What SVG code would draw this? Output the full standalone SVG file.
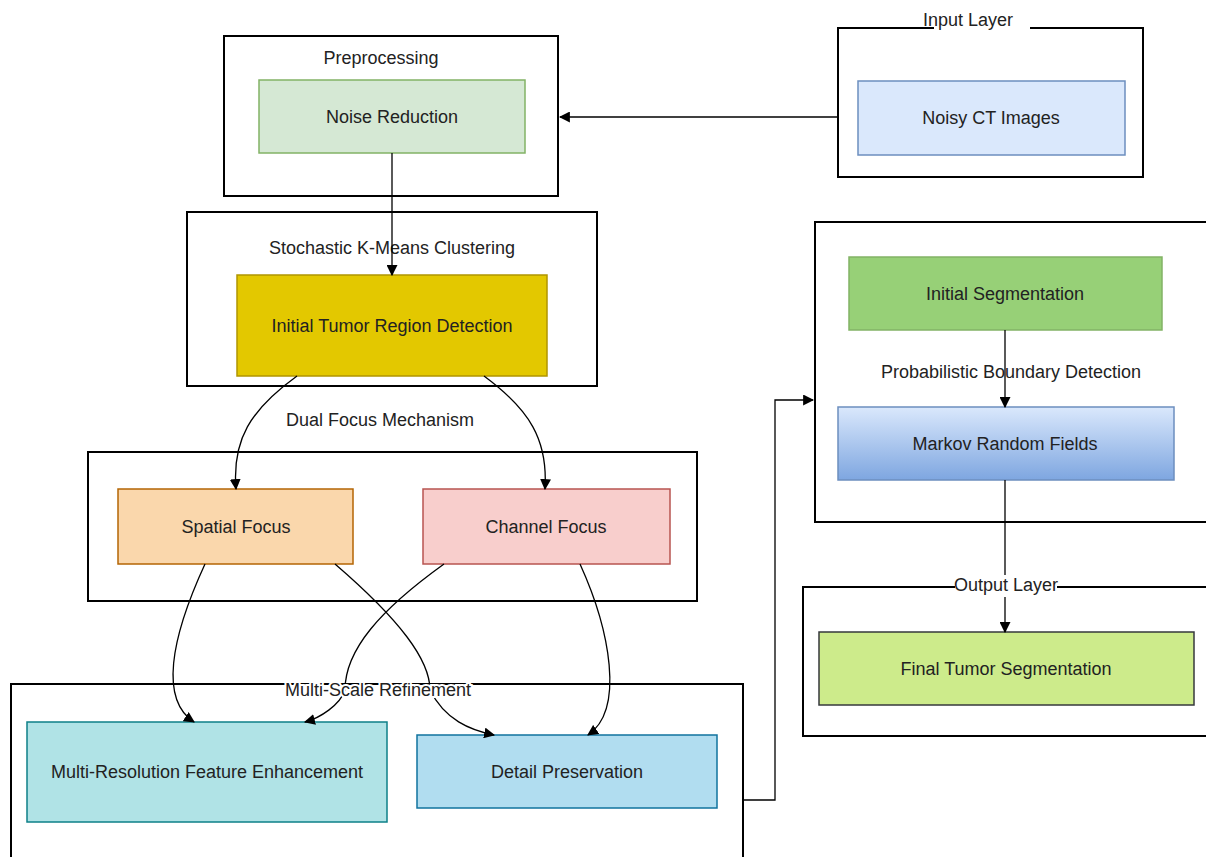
<svg xmlns="http://www.w3.org/2000/svg" width="1206" height="857" viewBox="0 0 1206 857">
<defs>
<marker id="ah" viewBox="0 0 10 10" refX="9" refY="5" markerWidth="11" markerHeight="11" markerUnits="userSpaceOnUse" orient="auto"><path d="M0,0 L10,5 L0,10 z" fill="#000"/></marker>
<linearGradient id="mrf" x1="0" y1="0" x2="0" y2="1"><stop offset="0" stop-color="#dae8fc"/><stop offset="1" stop-color="#7ea6e0"/></linearGradient>
</defs>
<style>
.cont{fill:#fff;stroke:#000;stroke-width:2}
.box{stroke-width:1.5}
text{font-family:"Liberation Sans",Arial,sans-serif;font-size:18px;fill:#222;text-anchor:middle;dominant-baseline:central}
.lbl{fill:#fff;stroke:none}
.edge{fill:none;stroke:#000;stroke-width:1.3;marker-end:url(#ah)}
</style>
<rect width="1206" height="857" fill="#fff"/>

<g id="preprocessing">
<rect class="cont" x="224" y="36" width="334" height="160"/>
<text x="381" y="58">Preprocessing</text>
</g>
<g id="noise-reduction">
<rect class="box" x="259" y="80" width="266" height="73" fill="#d5e8d4" stroke="#82b366"/>
<text x="392" y="117">Noise Reduction</text>
</g>

<g id="input-layer">
<rect class="cont" x="838" y="28" width="305" height="149"/>
<rect class="lbl" x="934" y="10" width="96" height="24"/>
<text x="968" y="20">Input Layer</text>
</g>
<g id="noisy-ct">
<rect class="box" x="858" y="81" width="267" height="74" fill="#dae8fc" stroke="#6c8ebf"/>
<text x="991" y="118">Noisy CT Images</text>
</g>

<g id="kmeans">
<rect class="cont" x="187" y="212" width="410" height="174"/>
<text x="392" y="248">Stochastic K-Means Clustering</text>
</g>
<g id="initial-tumor">
<rect class="box" x="237" y="275" width="310" height="101" fill="#e3c800" stroke="#b09500"/>
<text x="392" y="326">Initial Tumor Region Detection</text>
</g>

<g id="dual-focus">
<rect class="cont" x="88" y="452" width="609" height="149"/>
</g>
<g id="spatial-focus">
<rect class="box" x="118" y="489" width="235" height="75" fill="#fad7ac" stroke="#b46504"/>
<text x="236" y="527">Spatial Focus</text>
</g>
<g id="channel-focus">
<rect class="box" x="423" y="489" width="247" height="75" fill="#f8cecc" stroke="#b85450"/>
<text x="546" y="527">Channel Focus</text>
</g>

<g id="multi-scale">
<rect class="cont" x="11" y="684" width="732" height="190"/>
</g>
<g id="multi-resolution">
<rect class="box" x="27" y="722" width="360" height="100" fill="#b0e3e6" stroke="#0e8088"/>
<text x="207" y="772">Multi-Resolution Feature Enhancement</text>
</g>
<g id="detail-preservation">
<rect class="box" x="417" y="735" width="300" height="73" fill="#b1ddf0" stroke="#10739e"/>
<text x="567" y="772">Detail Preservation</text>
</g>

<g id="boundary">
<rect class="cont" x="815" y="222" width="400" height="300"/>
</g>
<g id="initial-seg">
<rect class="box" x="849" y="257" width="313" height="73" fill="#97d077" stroke="#82b366"/>
<text x="1005" y="294">Initial Segmentation</text>
</g>
<g id="markov">
<rect class="box" x="838" y="407" width="336" height="73" fill="url(#mrf)" stroke="#6c8ebf"/>
<text x="1005" y="444">Markov Random Fields</text>
</g>

<g id="output-layer">
<rect class="cont" x="803" y="587" width="410" height="149"/>
</g>
<g id="final-seg">
<rect class="box" x="819" y="632" width="375" height="73" fill="#cdeb8b" stroke="#36393d"/>
<text x="1006" y="669">Final Tumor Segmentation</text>
</g>

<g id="connectors">
<path class="edge" d="M838,117 L560,117"/>
<path class="edge" d="M392,153 L392,275"/>
<path class="edge" d="M297,376 C250,410 232,440 236,489"/>
<path class="edge" d="M484,376 C530,410 548,440 545,489"/>
<path class="edge" d="M205,564 C170,640 160,700 194,722"/>
<path class="edge" d="M335,564 C400,620 430,660 430,690 C445,720 470,730 494,735"/>
<path class="edge" d="M444,564 C380,610 345,650 345,690 C340,705 320,718 305,722"/>
<path class="edge" d="M580,564 C610,630 625,710 588,735"/>
<path class="edge" d="M743,800 L775,800 L775,400 L813,400"/>
<path class="edge" d="M1005,330 L1005,407"/>
<path class="edge" d="M1005,480 L1005,632"/>
</g>

<g id="labels">
<text x="380" y="420">Dual Focus Mechanism</text>
<text x="378" y="690" style="paint-order:stroke" stroke="#fff" stroke-width="4">Multi-Scale Refinement</text>
<text x="1011" y="372">Probabilistic Boundary Detection</text>
<rect class="lbl" x="955" y="575" width="102" height="22"/>
<text x="1006" y="585">Output Layer</text>
</g>
</svg>
